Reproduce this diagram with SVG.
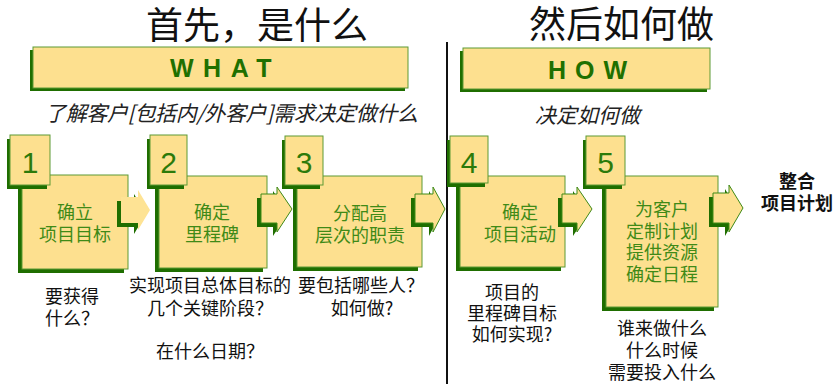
<svg xmlns="http://www.w3.org/2000/svg" width="836" height="384" viewBox="0 0 836 384">
<style>
.bg{fill:#ffffff}
.box{fill:#FDE08F;stroke:#5C9A34;stroke-width:1}
.sh{fill:#1F6E00}
.arr{fill:#FDE08F;stroke:#3F8A17;stroke-width:1}
.arrn{fill:#FEE394;stroke:none}
.num{font-family:"Liberation Sans",Arial,sans-serif;font-size:30px;fill:#2C7A0A;text-anchor:middle}
.nt{font-family:"Noto Sans CJK SC",sans-serif;font-size:18px;fill:#3F8A17;text-anchor:middle}
.lb{font-family:"Noto Sans CJK SC",sans-serif;font-size:18px;fill:#111;text-anchor:middle}
.ttl{font-family:"Noto Sans CJK SC",sans-serif;font-size:37px;fill:#111}
.hd{font-family:"Liberation Sans",Arial,sans-serif;font-size:25px;font-weight:bold;fill:#1F7000}
.it{font-family:"Noto Sans CJK SC",sans-serif;font-size:21px;font-style:italic;fill:#222}
</style>
<rect class="bg" x="0" y="0" width="836" height="384"/>

<g id="titles">
<text class="ttl" x="146" y="39">首先，是什么</text>
<text class="ttl" x="529" y="38">然后如何做</text>
</g>

<line x1="447" y1="42" x2="447" y2="384" stroke="#111" stroke-width="2"/>

<g id="what">
<rect class="sh" x="30" y="50" width="375" height="41"/>
<rect class="box" x="33" y="47" width="375" height="41"/>
<text class="hd" x="170" y="77" letter-spacing="9.5">WHAT</text>
</g>
<g id="how">
<rect class="sh" x="460" y="51" width="247" height="41"/>
<rect class="box" x="463" y="48" width="247" height="41"/>
<text class="hd" x="548" y="79" letter-spacing="9">HOW</text>
</g>

<text class="it" x="45" y="121" textLength="373" lengthAdjust="spacing">了解客户[包括内/外客户]需求决定做什么</text>
<text class="it" x="535" y="123">决定如何做</text>

<g id="node1">
<rect class="sh" x="18" y="179" width="106" height="94"/>
<rect class="box" x="22" y="175" width="106" height="94"/>
<rect class="sh" x="7" y="139" width="40" height="50"/>
<rect class="box" x="10" y="135" width="40" height="50"/>
<text class="num" x="30" y="173">1</text>
<text class="nt" x="75" y="219">确立</text>
<text class="nt" x="75" y="241">项目目标</text>
</g>

<g id="node2">
<rect class="sh" x="155" y="180" width="108" height="92"/>
<rect class="box" x="159" y="176" width="108" height="92"/>
<rect class="sh" x="147" y="139" width="37" height="50"/>
<rect class="box" x="150" y="135" width="37" height="50"/>
<text class="num" x="168.5" y="173">2</text>
<text class="nt" x="212" y="219">确定</text>
<text class="nt" x="212" y="241">里程碑</text>
</g>

<g id="node3">
<rect class="sh" x="293" y="180" width="125" height="91"/>
<rect class="box" x="297" y="176" width="125" height="91"/>
<rect class="sh" x="282" y="140" width="38" height="49"/>
<rect class="box" x="285" y="136" width="38" height="49"/>
<text class="num" x="304" y="173">3</text>
<text class="nt" x="360" y="220">分配高</text>
<text class="nt" x="360" y="242">层次的职责</text>
</g>

<g id="node4">
<rect class="sh" x="456" y="180" width="105" height="91"/>
<rect class="box" x="460" y="176" width="105" height="91"/>
<rect class="sh" x="447" y="140" width="38" height="47"/>
<rect class="box" x="450" y="136" width="38" height="47"/>
<text class="num" x="469" y="173">4</text>
<text class="nt" x="520" y="219">确定</text>
<text class="nt" x="520" y="241">项目活动</text>
</g>

<g id="node5">
<rect class="sh" x="602" y="180" width="112" height="131"/>
<rect class="box" x="606" y="176" width="112" height="131"/>
<rect class="sh" x="583" y="140" width="39" height="49"/>
<rect class="box" x="586" y="136" width="39" height="49"/>
<text class="num" x="605.5" y="173">5</text>
<text class="nt" x="662" y="216">为客户</text>
<text class="nt" x="662" y="238">定制计划</text>
<text class="nt" x="662" y="259">提供资源</text>
<text class="nt" x="662" y="281">确定日程</text>
</g>

<g id="connectors">
<polygon class="sh" points="117,201 134,201 134,194 146,214 134,234 134,227 117,227"/>
<polygon class="arrn" points="121,197 138,197 138,190 150,210 138,230 138,223 121,223"/>
<polygon class="sh" points="257,198 273,198 273,191 288,213 273,236 273,227 257,227"/>
<polygon class="arr" points="261,194 277,194 277,187 292,209 277,232 277,223 261,223"/>
<polygon class="sh" points="411,198 429,198 429,191 441,213 429,236 429,227 411,227"/>
<polygon class="arr" points="415,194 433,194 433,187 445,209 433,232 433,223 415,223"/>
<polygon class="sh" points="558,198 573,198 573,191 588,213 573,236 573,227 558,227"/>
<polygon class="arr" points="562,194 577,194 577,187 592,209 577,232 577,223 562,223"/>
<polygon class="sh" points="709,197 725,197 725,189 739,212 725,236 725,227 709,227"/>
<polygon class="arr" points="713,193 729,193 729,185 743,208 729,232 729,223 713,223"/>
</g>

<g id="result">
<text class="lb" x="797" y="188" font-weight="bold">整合</text>
<text class="lb" x="797" y="210" font-weight="bold">项目计划</text>
</g>

<g id="labels">
<text class="lb" x="45" y="303" text-anchor="start" style="text-anchor:start">要获得</text>
<text class="lb" x="45" y="325" style="text-anchor:start">什么？</text>
<text class="lb" x="210" y="292">实现项目总体目标的</text>
<text class="lb" x="210" y="315">几个关键阶段？</text>
<text class="lb" x="361" y="292">要包括哪些人？</text>
<text class="lb" x="362" y="315">如何做?</text>
<text class="lb" x="210" y="358">在什么日期？</text>
<text class="lb" x="512" y="299">项目的</text>
<text class="lb" x="512" y="320">里程碑目标</text>
<text class="lb" x="512" y="341">如何实现?</text>
<text class="lb" x="662" y="335">谁来做什么</text>
<text class="lb" x="662" y="357">什么时候</text>
<text class="lb" x="662" y="379">需要投入什么</text>
</g>
</svg>
